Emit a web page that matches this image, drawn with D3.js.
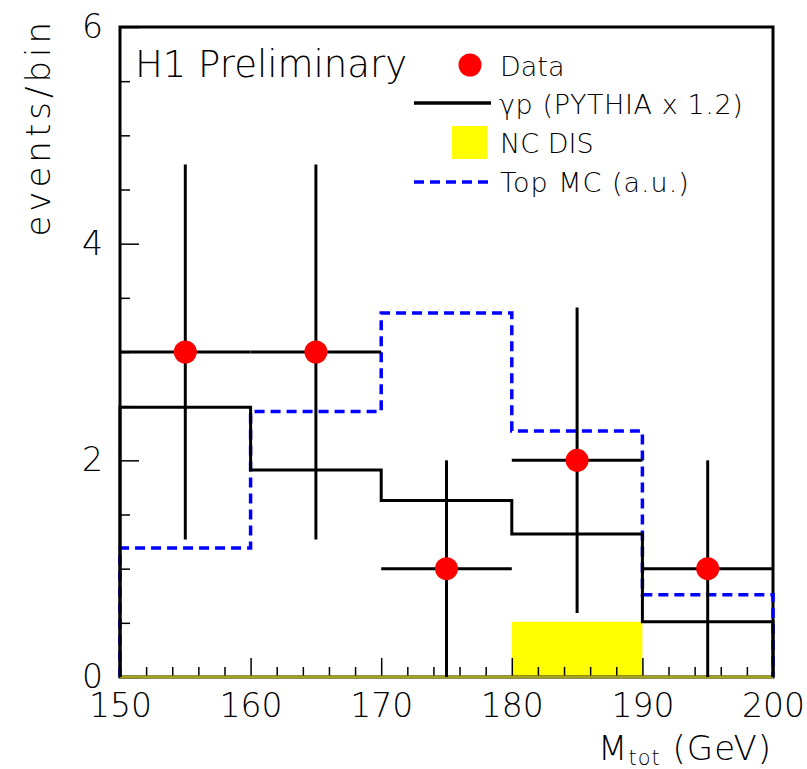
<!DOCTYPE html>
<html>
<head>
<meta charset="utf-8">
<script src="https://cdn.jsdelivr.net/npm/d3@7/dist/d3.min.js"></script>
<style>
  html, body { margin: 0; padding: 0; background: #fff; }
  svg { display: block; }
  text { font-family: "DejaVu Sans ExtraLight", "DejaVu Sans", sans-serif; font-weight: 200; fill: #000; }
</style>
</head>
<body>
<svg id="chart" width="807" height="769"></svg>
<script>
// Bin edges of the total-mass histogram (GeV)
const binEdges = [150, 160, 170, 180, 190, 200];
// gamma-p background (PYTHIA x 1.2), events per bin
const gammaP = [2.49, 1.91, 1.63, 1.32, 0.51];
// NC DIS background, events per bin
const ncDIS = [0, 0, 0, 0.51, 0];
// Top MC shape (arbitrary units)
const topMC = [1.19, 2.45, 3.36, 2.27, 0.76];
// Observed data: bin centres, counts and errors
const dataX = [155, 165, 175, 185, 195];
const dataY = [3, 3, 1, 2, 1];
const dataErr = [1.73, 1.73, 1, 1.41, 1];
// Axis ticks
const xMajor = [150, 160, 170, 180, 190, 200];
const yMajor = [0, 2, 4, 6];

const svg = d3.select("#chart");
const W = 807, H = 769;
const margin = { left: 120, right: 34, top: 27, bottom: 92 };

const x = d3.scaleLinear().domain([150, 200]).range([margin.left, W - margin.right]);
const y = d3.scaleLinear().domain([0, 6]).range([H - margin.bottom, margin.top]);

// Step-shaped outline of a binned histogram, closed to zero at both ends
function stepPoints(vals) {
  const pts = [[binEdges[0], 0]];
  vals.forEach((v, i) => { pts.push([binEdges[i], v]); pts.push([binEdges[i + 1], v]); });
  pts.push([binEdges[binEdges.length - 1], 0]);
  return pts;
}
const line = d3.line().x(d => x(d[0])).y(d => y(d[1]));

// NC DIS filled bars
svg.append("g").selectAll("rect")
  .data(ncDIS.map((v, i) => ({ x0: binEdges[i], x1: binEdges[i + 1], v })).filter(d => d.v > 0))
  .join("rect")
  .attr("x", d => x(d.x0)).attr("width", d => x(d.x1) - x(d.x0))
  .attr("y", d => y(d.v)).attr("height", d => y(0) - y(d.v))
  .attr("fill", "#ffff00");

// Axes with inward ticks
const xMinor = d3.range(150, 201, 2).filter(v => v % 10 !== 0);
const yMinor = d3.range(0, 6.01, 0.5).filter(v => v % 2 !== 0);

const gx = svg.append("g").attr("transform", `translate(0,${y(0)})`);
gx.call(d3.axisBottom(x).tickValues(xMinor).tickSize(-10).tickFormat(""));
gx.call(g => g.select(".domain").remove());
const gx2 = svg.append("g").attr("transform", `translate(0,${y(0)})`);
gx2.call(d3.axisBottom(x).tickValues(xMajor).tickSizeInner(-19).tickSizeOuter(0).tickPadding(17).tickFormat(d3.format("d")));
gx2.call(g => g.select(".domain").remove());

const gy = svg.append("g").attr("transform", `translate(${x(150)},0)`);
gy.call(d3.axisLeft(y).tickValues(yMinor).tickSize(-10).tickFormat(""));
gy.call(g => g.select(".domain").remove());
const gy2 = svg.append("g").attr("transform", `translate(${x(150)},0)`);
gy2.call(d3.axisLeft(y).tickValues(yMajor).tickSizeInner(-19).tickSizeOuter(0).tickPadding(17).tickFormat(d3.format("d")));
gy2.call(g => g.select(".domain").remove());

svg.selectAll(".tick line").attr("stroke", "#000").attr("stroke-width", 1.5);
svg.selectAll(".tick text").style("font-size", "33px").attr("fill", "#000");

// Plot frame
svg.append("rect")
  .attr("x", x(150)).attr("y", y(6))
  .attr("width", x(200) - x(150)).attr("height", y(0) - y(6))
  .attr("fill", "none").attr("stroke", "#000").attr("stroke-width", 3);

// NC DIS outline along zero
svg.append("line")
  .attr("x1", x(150)).attr("x2", x(200)).attr("y1", y(0)).attr("y2", y(0))
  .attr("stroke", "#a3a022").attr("stroke-width", 3);

// Top MC (dashed blue)
svg.append("path").attr("d", line(stepPoints(topMC)))
  .attr("fill", "none").attr("stroke", "#0000ff").attr("stroke-width", 3.5)
  .attr("stroke-dasharray", "10,6");

// gamma-p (solid black)
svg.append("path").attr("d", line(stepPoints(gammaP)))
  .attr("fill", "none").attr("stroke", "#000").attr("stroke-width", 3);

// Data error bars
const pts = dataX.map((cx, i) => ({ cx, cy: dataY[i], e: dataErr[i] }));
const gd = svg.append("g");
gd.selectAll("line.h").data(pts).join("line").attr("class", "h")
  .attr("x1", d => x(d.cx - 5)).attr("x2", d => x(d.cx + 5))
  .attr("y1", d => y(d.cy)).attr("y2", d => y(d.cy))
  .attr("stroke", "#000").attr("stroke-width", 3);
gd.selectAll("line.v").data(pts).join("line").attr("class", "v")
  .attr("x1", d => x(d.cx)).attr("x2", d => x(d.cx))
  .attr("y1", d => y(Math.max(0, d.cy - d.e))).attr("y2", d => y(d.cy + d.e))
  .attr("stroke", "#000").attr("stroke-width", 3);
gd.selectAll("circle").data(pts).join("circle")
  .attr("cx", d => x(d.cx)).attr("cy", d => y(d.cy)).attr("r", 11.5)
  .attr("fill", "#ff0000");

// Labels
svg.append("text").attr("x", 135).attr("y", 77).style("font-size", "37px").text("H1 Preliminary");

svg.append("text")
  .attr("transform", "translate(50,18) rotate(-90)")
  .attr("text-anchor", "end").style("font-size", "34px").style("letter-spacing", "4px")
  .text("events/bin");

const xt = svg.append("text").attr("x", 772).attr("y", 760).attr("text-anchor", "end")
  .style("font-size", "34px").style("letter-spacing", "1px");
xt.append("tspan").text("M");
xt.append("tspan").attr("dy", 5).style("font-size", "21px").text("tot");
xt.append("tspan").attr("dy", -5).text(" (GeV)");

// Legend
const leg = svg.append("g");
leg.append("circle").attr("cx", 470).attr("cy", 65).attr("r", 11.5).attr("fill", "#ff0000");
leg.append("text").attr("x", 500).attr("y", 76).style("font-size", "27px").text("Data");
leg.append("line").attr("x1", 414).attr("x2", 491).attr("y1", 103).attr("y2", 103)
  .attr("stroke", "#000").attr("stroke-width", 3.5);
leg.append("text").attr("x", 499).attr("y", 114).style("font-size", "27px").style("letter-spacing", "0.6px")
  .text("γp (PYTHIA x 1.2)");
leg.append("rect").attr("x", 452).attr("y", 126).attr("width", 35).attr("height", 33).attr("fill", "#ffff00");
leg.append("text").attr("x", 500).attr("y", 153).style("font-size", "27px").text("NC DIS");
leg.append("line").attr("x1", 414).attr("x2", 491).attr("y1", 182).attr("y2", 182)
  .attr("stroke", "#0000ff").attr("stroke-width", 3.5).attr("stroke-dasharray", "10,6");
leg.append("text").attr("x", 500).attr("y", 192).style("font-size", "27px").style("letter-spacing", "1px")
  .text("Top MC (a.u.)");
</script>
</body>
</html>
